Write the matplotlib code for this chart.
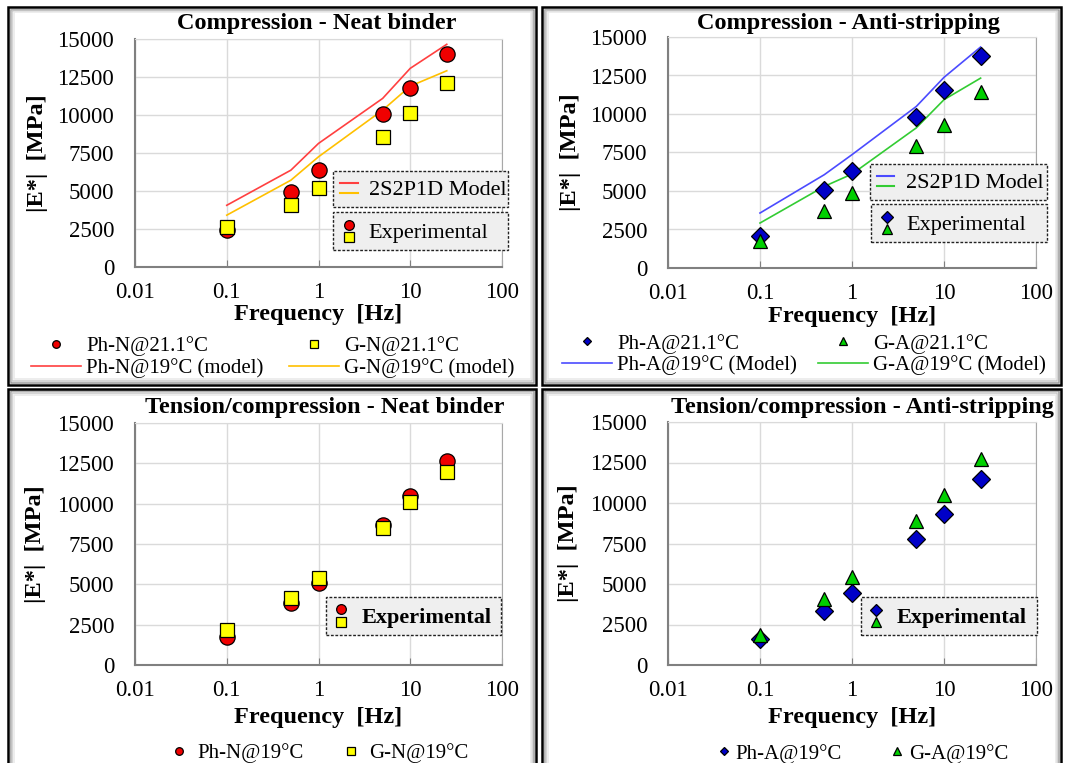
import numpy as np
import matplotlib
matplotlib.use('Agg')
import matplotlib.pyplot as plt
from matplotlib.legend_handler import HandlerBase
from matplotlib.lines import Line2D
from matplotlib.patches import Rectangle
from matplotlib.ticker import NullLocator

plt.rcParams['font.family'] = ['Liberation Serif', 'DejaVu Serif']

# loading frequencies [Hz]
freq = [0.1, 0.5, 1, 5, 10, 25]

# compression - neat binder
ph_n_comp = [2420, 4940, 6370, 10040, 11790, 14010]
g_n_comp = [2630, 4060, 5230, 8560, 10100, 12120]
ph_n_model = [4060, 6370, 8130, 11090, 13070, 14650]
g_n_model = [3410, 5710, 7250, 10320, 11900, 12910]

# compression - anti-stripping
ph_a_comp = [2100, 5040, 6320, 9800, 11530, 13740]
g_a_comp = [1750, 3720, 4870, 7900, 9300, 11400]
ph_a_model = [3570, 6060, 7360, 10490, 12380, 14350]
g_a_model = [2920, 5300, 6100, 9100, 10930, 12330]

# tension/compression
ph_n_tc = [1760, 3870, 5110, 8690, 10450, 12660]
g_n_tc = [2170, 4140, 5380, 8480, 10100, 11940]
ph_a_tc = [1580, 3330, 4460, 7750, 9350, 11470]
g_a_tc = [1850, 4050, 5440, 8880, 10480, 12700]

x_ticks = [0.01, 0.1, 1, 10, 100]
x_ticklabels = ['0.01', '0.1', '1', '10', '100']
y_ticks = np.arange(0, 15001, 2500)

W, H = 1065, 763

RED = dict(marker='o', color='#f00000', mec='black', mew=0.9, ls='none')
YEL = dict(marker='s', color='#ffff00', mec='black', mew=0.9, ls='none')
BLU = dict(marker='D', color='#0000c8', mec='black', mew=0.9, ls='none')
GRN = dict(marker='^', color='#00d000', mec='black', mew=0.9, ls='none')
RED_LINE = dict(color='#ff4040', lw=1.2)
ORG_LINE = dict(color='#ffc000', lw=1.2)
BLU_LINE = dict(color='#4b4bff', lw=1.2)
GRN_LINE = dict(color='#33cc33', lw=1.2)


class Stacked:
    """two legend handles drawn one above the other"""
    def __init__(self, *handles):
        self.handles = handles


class HandlerStacked(HandlerBase):
    def create_artists(self, legend, orig_handle, xdescent, ydescent,
                       width, height, fontsize, trans):
        arts = []
        n = len(orig_handle.handles)
        for i, h in enumerate(orig_handle.handles):
            y = -ydescent + height * (n - 1 - i + 0.5) / n
            if h.get_marker() not in (None, 'None', '', ' '):
                a = Line2D([-xdescent + width / 2], [y])
            else:
                a = Line2D([-xdescent, -xdescent + width], [y, y])
            a.update_from(h)
            a.set_transform(trans)
            arts.append(a)
        return arts


def add_axes(x0, y0, x1, y1):
    return fig.add_axes([x0 / W, 1 - y1 / H, (x1 - x0) / W, (y1 - y0) / H])


def style(ax, xlab_y, ylab_x):
    ax.set_xscale('log')
    ax.set_xlim(0.01, 100)
    ax.set_ylim(0, 15000)
    ax.set_xticks(x_ticks)
    ax.set_xticklabels(x_ticklabels)
    ax.xaxis.set_minor_locator(NullLocator())
    ax.set_yticks(y_ticks)
    ax.set_yticklabels([str(v) for v in y_ticks])
    ax.grid(True, color='#dadada', lw=1)
    ax.set_axisbelow(True)
    for s in ['left', 'bottom']:
        ax.spines[s].set_color('#808080')
        ax.spines[s].set_linewidth(1.5)
    ax.spines['right'].set_color('#a8a8a8')
    ax.spines['top'].set_color('#dadada')
    ax.tick_params(axis='x', direction='in', length=5, color='#808080',
                   labelsize=16.5, pad=11)
    ax.tick_params(axis='y', length=0, labelsize=16.5, pad=15)
    ax.set_xlabel('Frequency  [Hz]', fontsize=17.5, fontweight='bold')
    ax.set_ylabel('|E*|  [MPa]', fontsize=17.5, fontweight='bold')
    ax.xaxis.set_label_coords(0.5, xlab_y)
    ax.xaxis.label.set_va('center')
    ax.yaxis.set_label_coords(ylab_x, 0.5)
    ax.yaxis.label.set_va('center')


def boxed(ax, handle, label, x0, ytop, w, bold=False, hh=1.0):
    leg = ax.legend([handle], [label], handler_map={Stacked: HandlerStacked()},
                    loc='upper left', bbox_to_anchor=(x0, ytop, w, 0),
                    mode='expand', borderaxespad=0, fancybox=False,
                    framealpha=1, handlelength=0.8,
                    handleheight=hh, handletextpad=0.5, borderpad=0.3,
                    prop=dict(size=16, weight='bold' if bold else 'normal'))
    fr = leg.get_frame()
    fr.set_facecolor('#efefef')
    fr.set_edgecolor('#222222')
    fr.set_linestyle((0, (2, 1.2)))
    fr.set_linewidth(1.0)
    ax.add_artist(leg)
    return leg


def proxy(st, ms):
    return Line2D([], [], ms=ms, **st)


def panel_frame(x0, y0, x1, y1):
    # inner shading then black outline
    for off, c in [(2.5, '#9a9a9a'), (4, '#c8c8c8'), (5.5, '#e8e8e8')]:
        fig.add_artist(Rectangle(((x0 + off) / W, 1 - (y1 - off) / H),
                                 (x1 - x0 - 2 * off) / W, (y1 - y0 - 2 * off) / H,
                                 transform=fig.transFigure, fill=False,
                                 ec=c, lw=1.1, zorder=-1))
    fig.add_artist(Rectangle((x0 / W, 1 - y1 / H), (x1 - x0) / W, (y1 - y0) / H,
                             transform=fig.transFigure, fill=False,
                             ec='black', lw=1.8, zorder=10))


fig = plt.figure(figsize=(W / 100, H / 100), dpi=100)

panel_frame(8, 7, 536, 385)
panel_frame(542, 7, 1061, 385)
panel_frame(8, 389, 536, 790)
panel_frame(542, 389, 1061, 790)

# ---- compression, neat binder
ax1 = add_axes(135, 39, 502, 267)
ax1.plot(freq, ph_n_model, **RED_LINE)
ax1.plot(freq, g_n_model, **ORG_LINE)
ax1.plot(freq, ph_n_comp, ms=11, zorder=3, **RED)
ax1.plot(freq, g_n_comp, ms=10, zorder=3, **YEL)
style(ax1, -0.21, -0.265)
boxed(ax1, Stacked(proxy(RED_LINE | dict(lw=1.5), 0), proxy(ORG_LINE | dict(lw=1.5), 0)),
      '2S2P1D Model', 0.540, 0.421, 0.477)
boxed(ax1, Stacked(proxy(RED, 7), proxy(YEL, 6.5)), 'Experimental',
      0.540, 0.241, 0.477, hh=1.3)
ax1.legend([proxy(RED, 5.5), proxy(RED_LINE, 0), proxy(YEL, 6), proxy(ORG_LINE, 0)],
           ['Ph-N@21.1°C', 'Ph-N@19°C (model)', 'G-N@21.1°C', 'G-N@19°C (model)'],
           ncol=2, loc='upper left', bbox_to_anchor=(-0.283, -0.305),
           frameon=False, fontsize=15, handlelength=2.4, handletextpad=0.25,
           columnspacing=1.2, labelspacing=0.1, borderpad=0, borderaxespad=0)

# ---- compression, anti-stripping
ax2 = add_axes(668, 37, 1036, 268)
ax2.plot(freq, ph_a_model, **BLU_LINE)
ax2.plot(freq, g_a_model, **GRN_LINE)
ax2.plot(freq, ph_a_comp, ms=9, zorder=3, **BLU)
ax2.plot(freq, g_a_comp, ms=10, zorder=3, **GRN)
style(ax2, -0.21, -0.265)
boxed(ax2, Stacked(proxy(BLU_LINE | dict(lw=1.5), 0), proxy(GRN_LINE | dict(lw=1.5), 0)),
      '2S2P1D Model', 0.549, 0.450, 0.481)
boxed(ax2, Stacked(proxy(BLU, 6), proxy(GRN, 7)), 'Experimental',
      0.552, 0.277, 0.478, hh=1.3)
ax2.legend([proxy(BLU, 4.5), proxy(BLU_LINE, 0), proxy(GRN, 5.5), proxy(GRN_LINE, 0)],
           ['Ph-A@21.1°C', 'Ph-A@19°C (Model)', 'G-A@21.1°C', 'G-A@19°C (Model)'],
           ncol=2, loc='upper left', bbox_to_anchor=(-0.288, -0.284),
           frameon=False, fontsize=15, handlelength=2.4, handletextpad=0.25,
           columnspacing=1.0, labelspacing=0.1, borderpad=0, borderaxespad=0)

# ---- tension/compression, neat binder
ax3 = add_axes(135, 423, 502, 665)
ax3.plot(freq, ph_n_tc, ms=11, zorder=3, **RED)
ax3.plot(freq, g_n_tc, ms=10, zorder=3, **YEL)
style(ax3, -0.215, -0.27)
boxed(ax3, Stacked(proxy(RED, 7), proxy(YEL, 6.5)), 'Experimental',
      0.520, 0.282, 0.476, bold=True, hh=1.3)
ax3.legend([proxy(RED, 5.5), proxy(YEL, 6)], ['Ph-N@19°C', 'G-N@19°C'],
           ncol=2, loc='center left', bbox_to_anchor=(0.098, -0.365),
           frameon=False, fontsize=15, handlelength=0.8, handletextpad=0.45,
           columnspacing=1.9, borderpad=0, borderaxespad=0)

# ---- tension/compression, anti-stripping
ax4 = add_axes(668, 422, 1036, 665)
ax4.plot(freq, ph_a_tc, ms=9, zorder=3, **BLU)
ax4.plot(freq, g_a_tc, ms=10, zorder=3, **GRN)
style(ax4, -0.215, -0.27)
boxed(ax4, Stacked(proxy(BLU, 6), proxy(GRN, 7)), 'Experimental',
      0.524, 0.280, 0.478, bold=True, hh=1.3)
ax4.legend([proxy(BLU, 4.5), proxy(GRN, 5.5)], ['Ph-A@19°C', 'G-A@19°C'],
           ncol=2, loc='center left', bbox_to_anchor=(0.139, -0.365),
           frameon=False, fontsize=15, handlelength=0.5, handletextpad=0.3,
           columnspacing=2.4, borderpad=0, borderaxespad=0)

titles = [('Compression - Neat binder', 317, 23),
          ('Compression - Anti-stripping', 848, 23),
          ('Tension/compression - Neat binder', 325, 408),
          ('Tension/compression - Anti-stripping', 862, 408)]
for t, x, y in titles:
    fig.text(x / W, 1 - y / H, t, ha='center', va='center',
             fontsize=17.5, fontweight='bold')

fig.savefig('out.png', dpi=100)
